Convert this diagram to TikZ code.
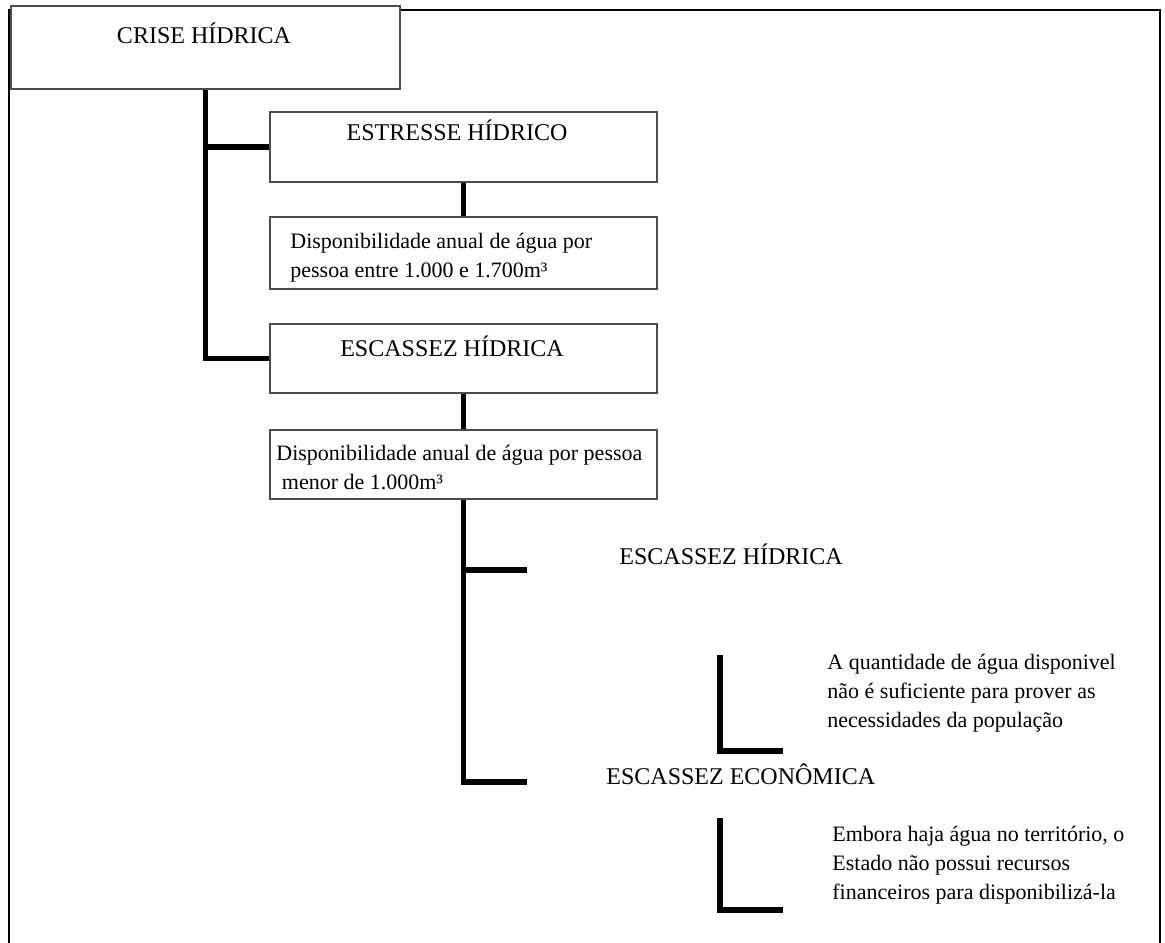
\documentclass[tikz,border=0pt]{standalone}
\usepackage{fontspec}
\setmainfont{Liberation Serif}
\usetikzlibrary{positioning}
\tikzstyle{box} = [draw=black!70, line width=0.9pt, fill=white, inner sep=0pt]
\tikzstyle{head} = [font=\fontsize{12}{14}\selectfont, inner sep=0pt]
\tikzstyle{body} = [font=\fontsize{11}{14.5}\selectfont, align=left, inner sep=0pt]
\tikzstyle{link} = [line width=2.6pt]
\tikzstyle{frame} = [line width=1pt]

\begin{document}
\begin{tikzpicture}[x=0.5pt, y=-0.5pt]
\useasboundingbox (0,0) rectangle (1165,942);
\clip (0,0) rectangle (1165,942);

\draw[frame] (9,960) -- (9,10) -- (1160,10) -- (1160,960);

% boxes
\node[box, minimum width=194.5pt, minimum height=41.5pt] (crise) at (205.5,47.5) {};
\node[box, minimum width=193.5pt, minimum height=35pt] (estresse) at (463.5,147) {};
\node[box, minimum width=193.5pt, minimum height=36pt] (disp1) at (463.5,253) {};
\node[box, minimum width=193.5pt, minimum height=34.5pt] (escassez) at (463.5,358.5) {};
\node[box, minimum width=193.5pt, minimum height=34.5pt] (disp2) at (463.5,464.5) {};

% connectors
\draw[link] (crise.south) |- (escassez.west);
\draw[link] (crise.south |- estresse.west) -- (estresse.west);
\draw[link] (estresse.south) -- (disp1.north);
\draw[link] (escassez.south) -- (disp2.north);

\coordinate (hidstub) at (527,570);
\coordinate (ecostub) at (527,782);
\draw[link] (disp2.south) |- (ecostub);
\draw[link] (disp2.south |- hidstub) -- (hidstub);

\node[head, anchor=base] (crisetxt) at (204,43) {CRISE HÍDRICA};
\node[head, anchor=base] (estressetxt) at (457,140) {ESTRESSE HÍDRICO};
\node[head, anchor=base] (escasseztxt) at (452,356) {ESCASSEZ HÍDRICA};
\node[body, anchor=base west] (disp1txt) at (290,277)
	{Disponibilidade anual de água por\\pessoa entre 1.000 e 1.700m³};
\node[body, anchor=base west] (disp2txt) at (276,489)
	{Disponibilidade anual de água por pessoa\\\hspace*{0.25em}menor de 1.000m³};

% right side
\node[head, anchor=base west] (hidtxt) at (619,564) {ESCASSEZ HÍDRICA};
\node[head, anchor=base west] (ecotxt) at (606,784) {ESCASSEZ ECONÔMICA};

\coordinate (hidtop) at (720,655);
\coordinate (hidend) at (783,751);
\draw[link] (hidtop) |- (hidend);
\node[body, anchor=base west] (hidnote) at (827,727)
	{A quantidade de água disponivel\\não é suficiente para prover as\\necessidades da população};

\coordinate (ecotop) at (720,818);
\coordinate (ecoend) at (783,910);
\draw[link] (ecotop) |- (ecoend);
\node[body, anchor=base west] (econote) at (832,899)
	{Embora haja água no território, o\\Estado não possui recursos\\financeiros para disponibilizá-la};

\end{tikzpicture}
\end{document}
